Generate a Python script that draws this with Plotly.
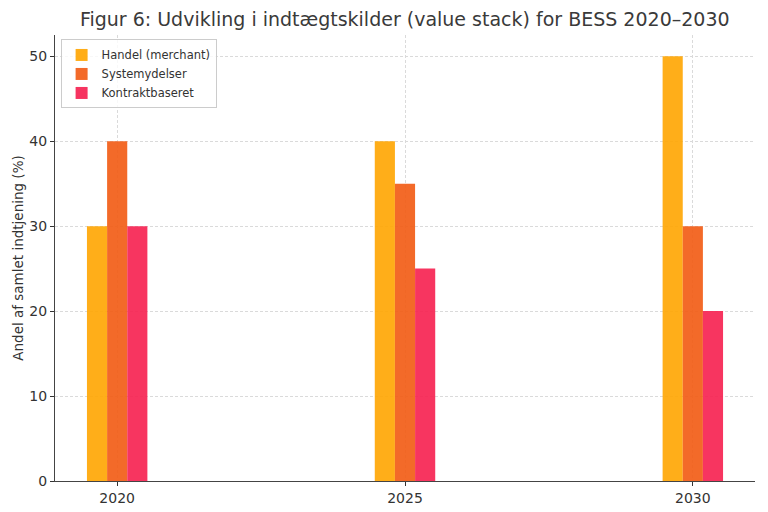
import plotly.graph_objects as go

# data
years = [2020, 2025, 2030]
handel = [30, 40, 50]
systemydelser = [40, 35, 30]
kontrakt = [30, 25, 20]

series = [
    ("Handel (merchant)", handel, "#FFA500", -0.525),
    ("Systemydelser", systemydelser, "#F25A12", -0.175),
    ("Kontraktbaseret", kontrakt, "#F61F4F", 0.175),
]

fig = go.Figure()
for name, vals, color, off in series:
    fig.add_trace(go.Bar(
        x=years, y=vals, name=name,
        width=0.35, offset=off,
        marker=dict(color=color, line=dict(width=0)),
        opacity=0.9,
    ))

axis_font = dict(family="DejaVu Sans", size=14, color="#333333")
grid = dict(showgrid=True, gridcolor="#dadada", griddash="3px,2px", gridwidth=0.8)

fig.update_layout(
    width=768, height=512,
    margin=dict(l=55, r=13, t=35, b=31),
    paper_bgcolor="white", plot_bgcolor="white",
    font=dict(family="DejaVu Sans", color="#333333"),
    title=dict(
        text="Figur 6: Udvikling i indtægtskilder (value stack) for BESS 2020–2030",
        x=0.527, xanchor="center", y=0.975, yanchor="top",
        font=dict(size=19, color="#3a3a3a"),
    ),
    barmode="overlay",
    showlegend=True,
    legend=dict(
        x=0.008, y=0.99, xanchor="left", yanchor="top",
        bgcolor="rgba(255,255,255,0.8)", bordercolor="#cccccc", borderwidth=1,
        font=dict(size=11.5, color="#333333"),
        itemsizing="constant", tracegroupgap=0,
    ),
    xaxis=dict(
        range=[2018.92, 2031.08],
        tickvals=years, ticktext=[str(y) for y in years],
        tickfont=axis_font, automargin=False,
        ticks="outside", ticklen=4, tickcolor="#333333",
        showline=True, linecolor="#444444", linewidth=1,
        zeroline=False, **grid,
    ),
    yaxis=dict(
        range=[0, 52.5],
        tickvals=[0, 10, 20, 30, 40, 50],
        tickfont=axis_font, automargin=False,
        ticks="outside", ticklen=4, tickcolor="#333333",
        showline=True, linecolor="#444444", linewidth=1,
        zeroline=False, **grid,
        title=dict(text="Andel af samlet indtjening (%)", font=dict(size=13.5, color="#333333"), standoff=2),
    ),
)

# the page body has a default 8px margin; drop it so the figure fills the window
fig.write_html("out.html", config={"displayModeBar": False},
               post_script="document.body.style.margin='0';")
